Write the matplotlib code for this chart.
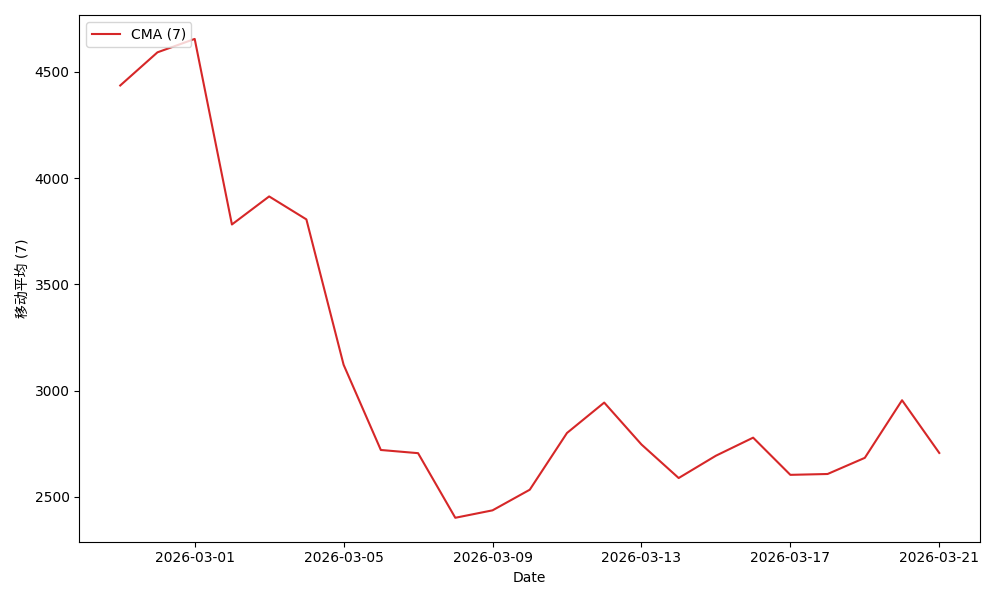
import matplotlib
matplotlib.use("Agg")
import matplotlib.pyplot as plt
import pandas as pd

plt.rcParams['font.family'] = ['DejaVu Sans', 'Noto Sans CJK SC']

dates = pd.date_range("2026-02-27", "2026-03-21", freq="D")
cma_values = [4436, 4592, 4655, 3782, 3914, 3806, 3122, 2721, 2706, 2402,
              2437, 2534, 2801, 2944, 2747, 2589, 2694, 2779, 2604, 2608,
              2684, 2955, 2707]
series_label = "CMA (7)"
x_label = "Date"
y_label = "移动平均 (7)"

fig, ax = plt.subplots(figsize=(10, 6), dpi=100)
ax.plot(dates, cma_values, color="#d62728", linewidth=1.5, label=series_label)
ax.set_xlabel(x_label)
ax.set_ylabel(y_label)
ax.legend(loc="upper left")
fig.tight_layout()
fig.savefig("out.png")
